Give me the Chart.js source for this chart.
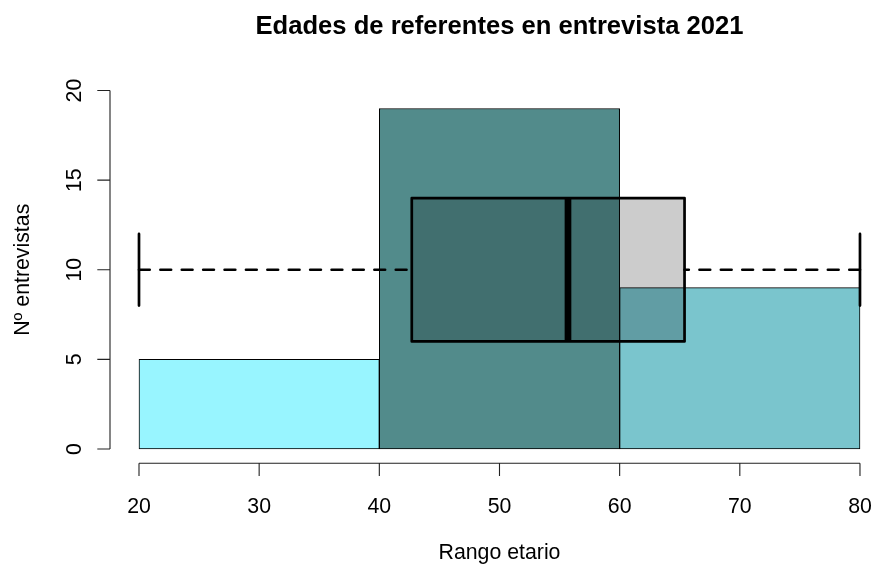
<!DOCTYPE html>
<html>
<head>
<meta charset="utf-8">
<script src="https://cdn.jsdelivr.net/npm/chart.js@4/dist/chart.umd.min.js"></script>
<style>
  html, body { margin: 0; padding: 0; background: #ffffff; }
  #wrap { width: 872px; height: 565px; }
</style>
</head>
<body>
<div id="wrap"><canvas id="c" width="872" height="565"></canvas></div>
<script>
// Histogram bins (age ranges) and counts
const binStarts = [20, 40, 60];
const binEnds = [40, 60, 80];
const counts = [5, 19, 9];

// Boxplot summary of ages: min, Q1, median, Q3, max
const boxStats = [20, 42.7, 55.7, 65.4, 80];

// Axis ticks
const xTicks = [20, 30, 40, 50, 60, 70, 80];
const yTicks = [0, 5, 10, 15, 20];

const titleText = 'Edades de referentes en entrevista 2021';
const xTitle = 'Rango etario';
const yTitle = 'Nº entrevistas';

// Styling
const barColors = ['#98F5FF', '#528B8B', '#7AC5CD'];
const FONT = '"Liberation Sans", Arial, Helvetica, sans-serif';
const boxCenter = 10;     // vertical position of the boxplot
const boxHalf = 4;        // half height of the box
const stapleHalf = 2;     // half height of whisker end caps

const rBox = {
  id: 'rBox',
  afterDatasetsDraw(chart) {
    const { ctx, scales: { x, y } } = chart;
    const [mn, q1, md, q3, mx] = boxStats;
    const yc = y.getPixelForValue(boxCenter);
    const yt = y.getPixelForValue(boxCenter + boxHalf);
    const yb = y.getPixelForValue(boxCenter - boxHalf);
    const st = y.getPixelForValue(boxCenter + stapleHalf);
    const sb = y.getPixelForValue(boxCenter - stapleHalf);
    ctx.save();
    // box
    const x1 = x.getPixelForValue(q1), x3 = x.getPixelForValue(q3);
    ctx.fillStyle = 'rgba(0,0,0,0.2)';
    ctx.fillRect(x1, yt, x3 - x1, yb - yt);
    ctx.strokeStyle = '#000';
    ctx.lineWidth = 2.7;
    ctx.lineJoin = 'round';
    ctx.strokeRect(x1, yt, x3 - x1, yb - yt);
    // median
    const xm = x.getPixelForValue(md);
    ctx.lineWidth = 6.7;
    ctx.lineCap = 'butt';
    ctx.beginPath();
    ctx.moveTo(xm, yt);
    ctx.lineTo(xm, yb);
    ctx.stroke();
    // whiskers (dashed), drawn from the extremes inward
    ctx.lineWidth = 2.7;
    ctx.lineCap = 'round';
    ctx.setLineDash([10.7, 10.7]);
    ctx.beginPath();
    ctx.moveTo(x.getPixelForValue(mn), yc);
    ctx.lineTo(x1, yc);
    ctx.moveTo(x.getPixelForValue(mx), yc);
    ctx.lineTo(x3, yc);
    ctx.stroke();
    ctx.setLineDash([]);
    // staples
    ctx.beginPath();
    [mn, mx].forEach(v => {
      const px = x.getPixelForValue(v);
      ctx.moveTo(px, st);
      ctx.lineTo(px, sb);
    });
    ctx.stroke();
    ctx.restore();
  }
};

const rAxes = {
  id: 'rAxes',
  afterDraw(chart) {
    const { ctx, scales: { x, y }, chartArea } = chart;
    ctx.save();
    ctx.strokeStyle = '#222';
    ctx.lineWidth = 1.1;
    ctx.fillStyle = '#000';

    // x axis
    const ay = chartArea.bottom;
    ctx.beginPath();
    ctx.moveTo(x.getPixelForValue(xTicks[0]), ay);
    ctx.lineTo(x.getPixelForValue(xTicks[xTicks.length - 1]), ay);
    xTicks.forEach(v => {
      const px = x.getPixelForValue(v);
      ctx.moveTo(px, ay);
      ctx.lineTo(px, ay + 12.7);
    });
    ctx.stroke();
    ctx.font = '21.3px ' + FONT;
    ctx.textAlign = 'center';
    ctx.textBaseline = 'alphabetic';
    xTicks.forEach(v => ctx.fillText(String(v), x.getPixelForValue(v), 512.6));

    // y axis
    const ax = chartArea.left;
    ctx.beginPath();
    ctx.moveTo(ax, y.getPixelForValue(yTicks[0]));
    ctx.lineTo(ax, y.getPixelForValue(yTicks[yTicks.length - 1]));
    yTicks.forEach(v => {
      const py = y.getPixelForValue(v);
      ctx.moveTo(ax, py);
      ctx.lineTo(ax - 12.7, py);
    });
    ctx.stroke();
    yTicks.forEach(v => {
      ctx.save();
      ctx.translate(81, y.getPixelForValue(v));
      ctx.rotate(-Math.PI / 2);
      ctx.fillText(String(v), 0, 0);
      ctx.restore();
    });

    // titles
    const cx = x.getPixelForValue(50);
    ctx.font = 'bold 25.6px ' + FONT;
    ctx.fillText(titleText, cx, 34);
    ctx.font = '21.3px ' + FONT;
    ctx.fillText(xTitle, cx, 559);
    ctx.save();
    ctx.translate(28.5, (chartArea.top + chartArea.bottom) / 2);
    ctx.rotate(-Math.PI / 2);
    ctx.fillText(yTitle, 0, 0);
    ctx.restore();
    ctx.restore();
  }
};

new Chart(document.getElementById('c'), {
  type: 'bar',
  data: {
    datasets: [{
      label: yTitle,
      data: binStarts.map((s, i) => ({ x: (s + binEnds[i]) / 2, y: counts[i] })),
      backgroundColor: barColors,
      borderColor: '#000',
      borderWidth: 1,
      borderSkipped: false,
      categoryPercentage: 1,
      barPercentage: 1
    }]
  },
  options: {
    responsive: false,
    animation: false,
    devicePixelRatio: 1,
    layout: { padding: { left: 110, top: 76.2, right: 0, bottom: 101.7 } },
    plugins: { legend: { display: false }, tooltip: { enabled: false }, title: { display: false } },
    scales: {
      x: {
        type: 'linear', min: 17.587, max: 81.0, display: false, offset: false,
        // ticks placed on the bin edges so each bar spans one full bin
        afterBuildTicks: s => { s.ticks = binStarts.concat([binEnds[binEnds.length - 1]]).map(v => ({ value: v })); }
      },
      y: { min: -0.8, max: 20.8, display: false }
    }
  },
  plugins: [rBox, rAxes]
});
</script>
</body>
</html>
